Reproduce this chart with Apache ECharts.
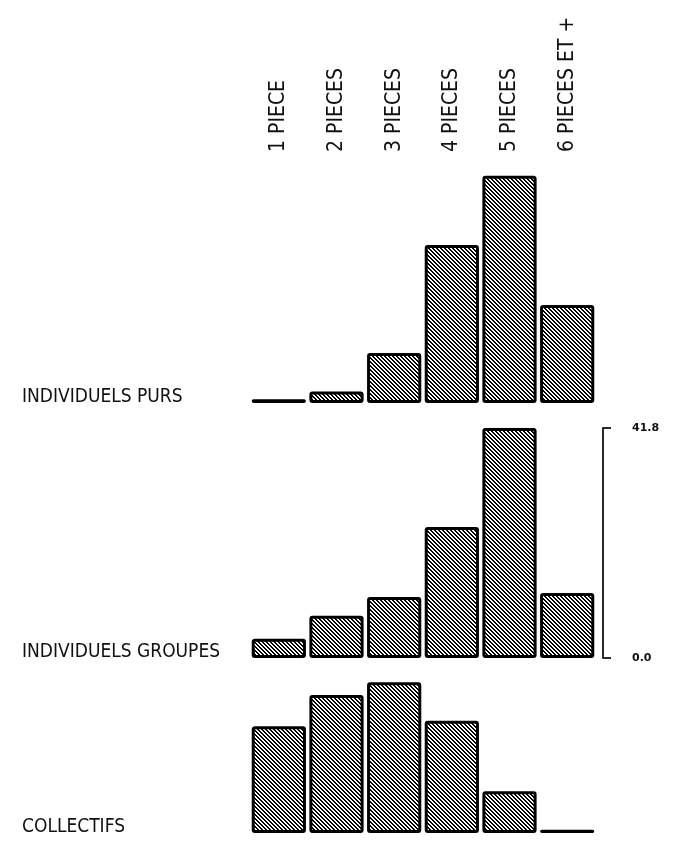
<!DOCTYPE html>
<html>
<head>
<meta charset="utf-8">
<style>
  html, body { margin: 0; padding: 0; background: #fff; }
  #chart { width: 681px; height: 847px; }
</style>
<script src="https://cdn.jsdelivr.net/npm/echarts@6/dist/echarts.min.js"></script>
</head>
<body>
<div id="chart"></div>
<script>
// categories (top labels) and the three rows of percentages
var categories = ['1 PIECE', '2 PIECES', '3 PIECES', '4 PIECES', '5 PIECES', '6 PIECES ET +'];
var rowNames = ['INDIVIDUELS PURS', 'INDIVIDUELS GROUPES', 'COLLECTIFS'];
var individuelsPurs = [0.7, 2.1, 9.1, 28.7, 41.3, 17.8];
var individuelsGroupes = [3.5, 7.7, 11.1, 23.8, 41.8, 11.8];
var collectifs = [19.4, 25.1, 27.4, 20.4, 7.6, 0.6];
var scaleTicks = [0, 41.8];

var LABEL_FONT = '"Liberation Sans Narrow", "DejaVu Sans Condensed", "DejaVu Sans Mono", sans-serif';

// hatch pattern: crisp diagonal stripes going down-right
function makeHatch() {
    var c = document.createElement('canvas');
    c.width = 4; c.height = 4;
    var ctx = c.getContext('2d');
    ctx.fillStyle = '#fff';
    ctx.fillRect(0, 0, 4, 4);
    ctx.fillStyle = '#000';
    for (var y = 0; y < 4; y++) {
        for (var x = 0; x < 4; x++) {
            var d = ((x - y) % 4 + 4) % 4;
            if (d < 2) ctx.fillRect(x, y, 1, 1);
        }
    }
    return c;
}
var hatch = { image: makeHatch(), repeat: 'repeat' };

var chart = echarts.init(document.getElementById('chart'));

var rows = [individuelsPurs, individuelsGroupes, collectifs];
var gridBottoms = [444, 189, 14];   // px from bottom of the page
var rowLabelTops = [390, 645, 820];

var grids = [], xAxes = [], yAxes = [], series = [], graphics = [];
rows.forEach(function (vals, i) {
    grids.push({ left: 250, right: 85, bottom: gridBottoms[i], height: 230 });
    xAxes.push({
        type: 'category', gridIndex: i, data: categories,
        position: 'top', show: i === 0,
        axisLine: { show: false }, axisTick: { show: false },
        axisLabel: {
            show: i === 0, rotate: 90, margin: 21, interval: 0,
            fontFamily: LABEL_FONT, fontSize: 21, color: '#111'
        }
    });
    var y = { type: 'value', gridIndex: i, min: 0, max: 41.8, show: false, splitLine: { show: false } };
    if (i === 1) {
        y = {
            type: 'value', gridIndex: 1, min: 0, max: 41.8, position: 'right', offset: 7,
            splitLine: { show: false },
            axisLine: { show: true, lineStyle: { color: '#111', width: 1.8 } },
            axisTick: { show: true, length: 8, customValues: scaleTicks, lineStyle: { color: '#111', width: 1.8 } },
            axisLabel: {
                show: true, margin: 29, customValues: scaleTicks,
                formatter: function (v) { return v.toFixed(1); },
                fontFamily: 'DejaVu Sans', fontWeight: 'bold', fontSize: 11, color: '#111'
            }
        };
    }
    yAxes.push(y);
    series.push({
        type: 'bar', xAxisIndex: i, yAxisIndex: i, data: vals,
        barCategoryGap: '6%', silent: true,
        itemStyle: { color: hatch, borderColor: '#000', borderWidth: 3, borderRadius: 1.5 }
    });
    graphics.push({
        type: 'text', left: 22, top: rowLabelTops[i] - 2,
        style: { text: rowNames[i], font: '19px ' + LABEL_FONT, fill: '#111' }
    });
});

chart.setOption({
    backgroundColor: '#fff',
    animation: false,
    grid: grids,
    xAxis: xAxes,
    yAxis: yAxes,
    series: series,
    graphic: graphics
});
</script>
</body>
</html>
